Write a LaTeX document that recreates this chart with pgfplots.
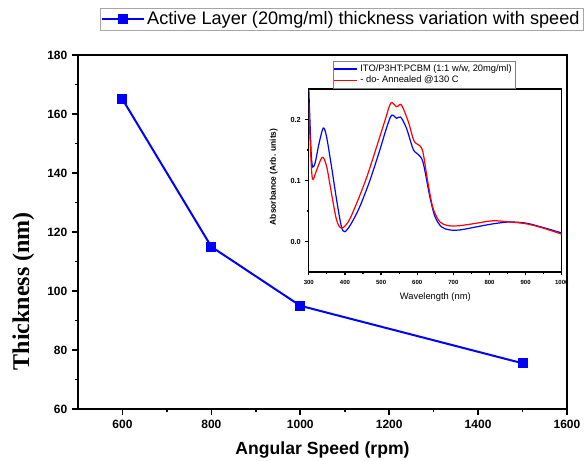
\documentclass[border=0pt]{standalone}
\usepackage{fontspec}
\setmainfont{Liberation Sans}
\newfontfamily\timesfont{Liberation Serif}
\usepackage{pgfplots}
\pgfplotsset{compat=1.18}
\usetikzlibrary{calc}

\begin{document}
\begin{tikzpicture}
% main plot: thickness vs spin speed
\begin{axis}[
    name=main,
    scale only axis,
    width=366.75pt, height=265.5pt,
    xmin=500, xmax=1600, ymin=60, ymax=180,
    xtick={600,800,...,1600}, ytick={60,80,...,180},
    minor x tick num=1, minor y tick num=1,
    tick align=outside, xtick pos=bottom, ytick pos=left,
    major tick length=4.5pt, minor tick length=2.5pt,
    axis line style={line width=1.4pt},
    every tick/.style={black, line width=1.2pt},
    /pgf/number format/assume math mode=true,
    /pgf/number format/1000 sep={},
    tick label style={font=\bfseries\fontsize{9}{10}\selectfont},
    xlabel={Angular Speed (rpm)},
    xlabel style={font=\bfseries\fontsize{13.2}{15}\selectfont,
        at={(axis description cs:0.5,-0.08)}, anchor=north},
    ylabel={Thickness (nm)},
    ylabel style={font=\timesfont\bfseries\fontsize{18}{20}\selectfont,
        at={(axis description cs:-0.112,0.333)}, anchor=center},
    legend style={at={(axis description cs:1.033,1.133)}, anchor=north east,
        draw=gray!70, font=\fontsize{13.6}{15}\selectfont, inner sep=0.5pt,
        legend image code/.code={%
            \draw[mark repeat=2, mark phase=2]
                plot coordinates {(0cm,0cm) (0.55cm,0cm) (1.1cm,0cm)};}},
    legend cell align=left,
]
\addplot[blue, line width=1.5pt, mark=square*, mark size=3pt]
    coordinates {(600,165) (800,115) (1000,95) (1500,75.5)};
\addlegendentry{Active Layer (20mg/ml) thickness variation with speed}
\coordinate (insetpos) at (rel axis cs:0.472,0.387);
\end{axis}

% inset: absorbance spectra
\begin{axis}[
    at={(insetpos)}, anchor=south west,
    scale only axis,
    width=189.75pt, height=137.25pt,
    xmin=300, xmax=1000, ymin=-0.05, ymax=0.25,
    xtick={300,400,...,1000}, ytick={0,0.1,0.2},
    minor x tick num=1, minor y tick num=1,
    tick align=outside, xtick pos=bottom, ytick pos=left,
    major tick length=2.5pt, minor tick length=1.5pt,
    axis line style={line width=1pt},
    every tick/.style={black, line width=0.9pt},
    /pgf/number format/assume math mode=true,
    /pgf/number format/1000 sep={},
    xticklabel style={font=\bfseries\fontsize{4.5}{5}\selectfont},
    yticklabel style={font=\bfseries\fontsize{5.5}{6}\selectfont,
        /pgf/number format/.cd, fixed, fixed zerofill, precision=1},
    xlabel={Wavelength (nm)},
    xlabel style={font=\fontsize{7}{8}\selectfont,
        at={(axis description cs:0.5,-0.09)}, anchor=north},
    ylabel={Absorbance (Arb. units)},
    ylabel style={font=\bfseries\fontsize{6.3}{7}\selectfont,
        at={(axis description cs:-0.105,0.52)}, anchor=south},
    legend style={at={(axis description cs:0.095,1.153)}, anchor=north west,
        draw=gray, font=\fontsize{7}{8}\selectfont, inner sep=0.5pt,
        row sep=-2pt},
    legend cell align=left,
    no markers,
]
\addplot[blue, line width=0.9pt, smooth, tension=0.5] coordinates {
    (300,0.25) (303,0.20) (307,0.14) (311,0.122) (318,0.13) (328,0.16)
    (340,0.186) (349,0.172) (363,0.122) (377,0.068) (390,0.025) (400,0.016)
    (418,0.030) (441,0.057) (469,0.100) (496,0.149) (515,0.186) (529,0.207)
    (543,0.202) (554,0.204) (570,0.186) (589,0.151) (602,0.143) (616,0.130)
    (635,0.073) (649,0.041) (667,0.024) (690,0.019) (718,0.019) (764,0.024)
    (810,0.029) (856,0.032) (902,0.030) (948,0.023) (1000,0.014)
};
\addlegendentry{ITO/P3HT:PCBM (1:1 w/w, 20mg/ml)}
\addplot[red, line width=0.9pt, smooth, tension=0.5] coordinates {
    (300,0.227) (304,0.16) (310,0.103) (321,0.116) (337,0.138) (349,0.124)
    (363,0.078) (377,0.035) (390,0.022) (409,0.032) (432,0.062) (460,0.105)
    (487,0.154) (510,0.197) (527,0.227) (543,0.221) (556,0.224) (575,0.197)
    (591,0.165) (607,0.157) (616,0.146) (630,0.095) (644,0.054) (663,0.032)
    (686,0.026) (718,0.026) (764,0.030) (810,0.034) (856,0.032) (902,0.029)
    (948,0.022) (1000,0.012)
};
\addlegendentry{- do- Annealed @130 C}
\end{axis}

\pgfresetboundingbox
\path[use as bounding box] ($(main.south west)+(-58.5pt,-39pt)$)
    rectangle ($(main.north east)+(15pt,41.25pt)$);
\end{tikzpicture}
\end{document}
